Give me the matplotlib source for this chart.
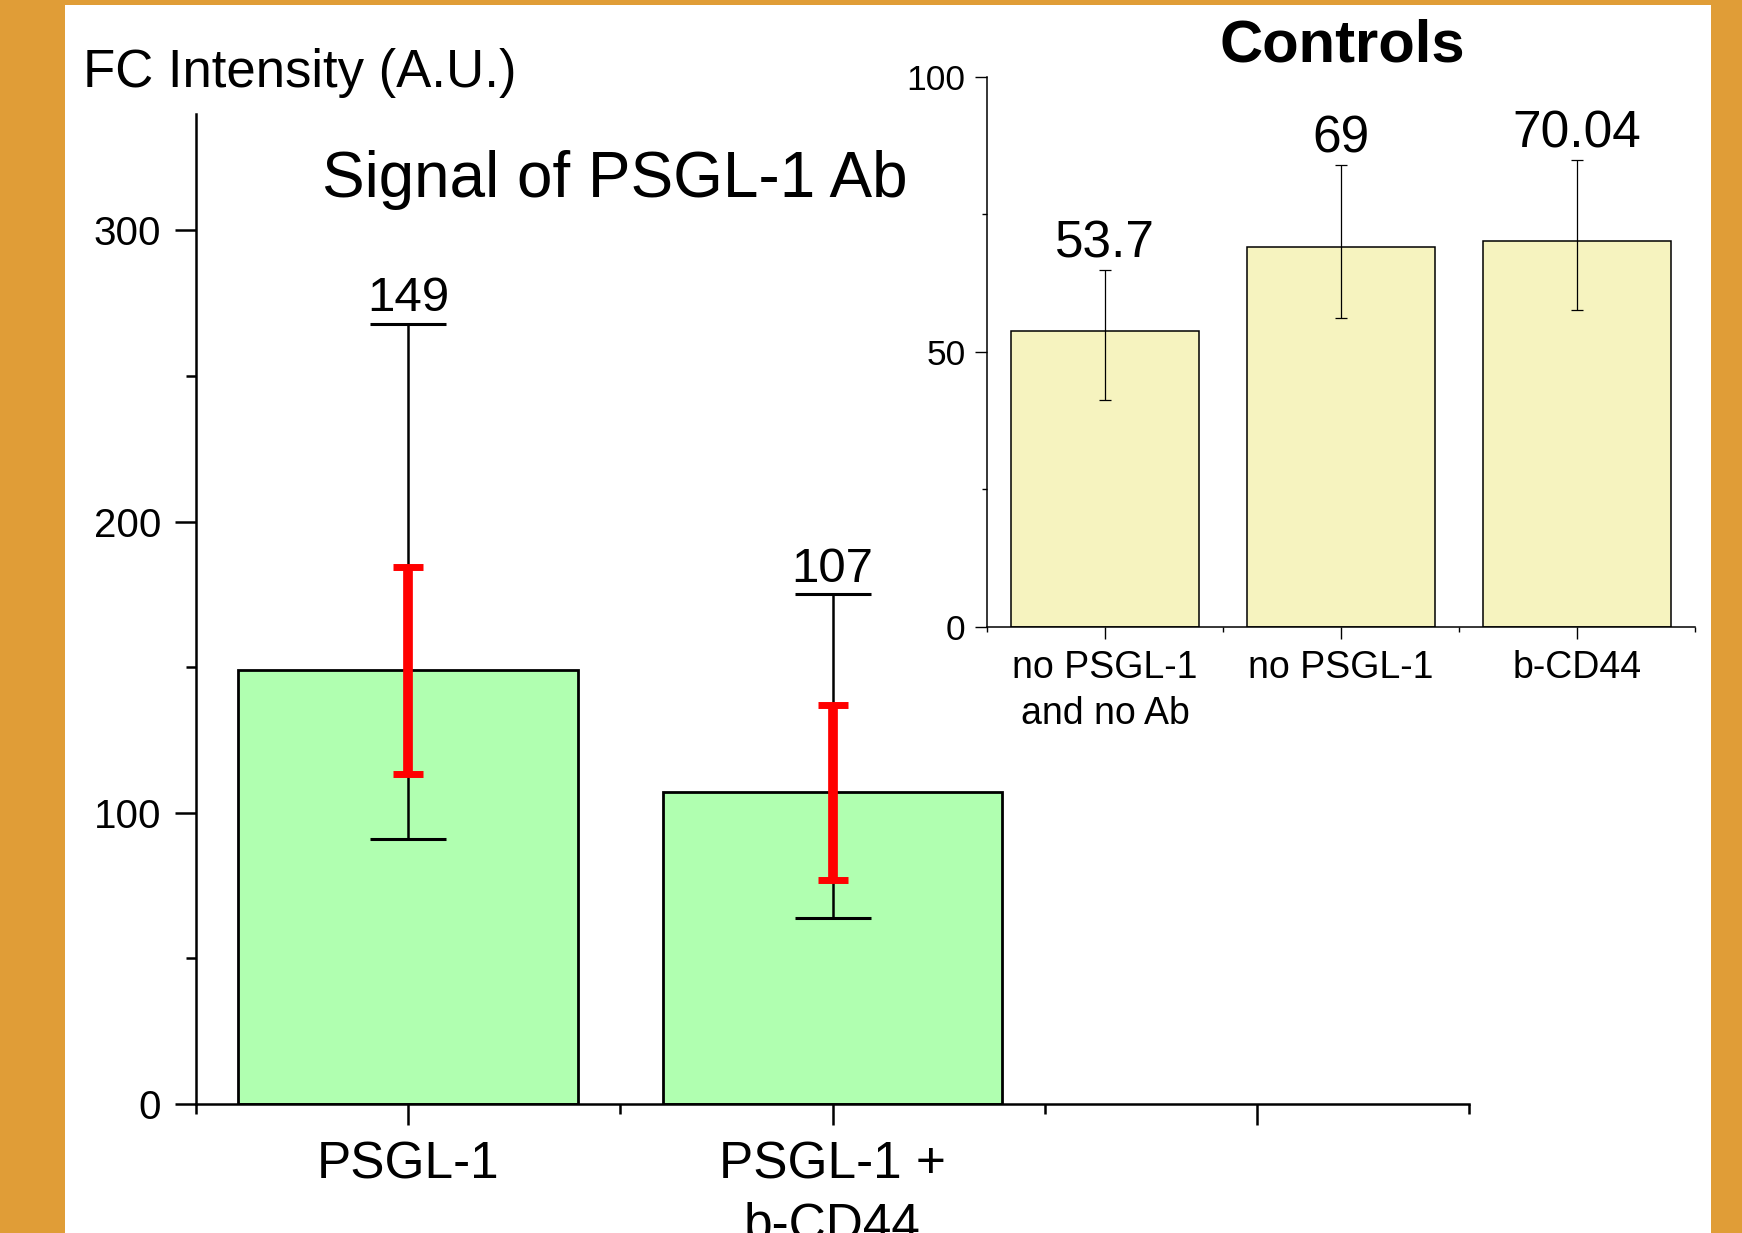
import matplotlib
matplotlib.use('Agg')
import matplotlib.pyplot as plt
from matplotlib.patches import Rectangle
from matplotlib.ticker import MultipleLocator, FixedLocator

plt.rcParams['font.family'] = ['Liberation Sans', 'DejaVu Sans']

# main panel: signal of PSGL-1 antibody
main_labels = ['PSGL-1', 'PSGL-1 +\nb-CD44', '']
main_values = [149, 107]
main_err_low = [58, 43]
main_err_high = [119, 68]
red_err = [35.5, 30]

# inset: controls
ctrl_labels = ['no PSGL-1\nand no Ab', 'no PSGL-1', 'b-CD44']
ctrl_values = [53.7, 69, 70.04]
ctrl_err_low = [12.4, 12.9, 12.4]
ctrl_err_high = [11.1, 14.9, 14.8]

W, H = 1742, 1233
fig = plt.figure(figsize=(W / 100, H / 100), dpi=100, facecolor='#E09D37')
fig.patches.append(Rectangle((65 / W, 0), (1711 - 65) / W, (H - 5) / H,
                             transform=fig.transFigure, facecolor='white',
                             edgecolor='none', zorder=-1))

# ---- main axes
ax = fig.add_axes([196 / W, 1 - 1104 / H, (1469 - 196) / W, (1104 - 114) / H])
ax.set_facecolor('none')
x = list(range(1, len(main_values) + 1))
ax.bar(x, main_values, width=0.8, color='#B0FFB0', edgecolor='black',
       linewidth=2, zorder=2)
ax.errorbar(x, main_values, yerr=[main_err_low, main_err_high], fmt='none',
            ecolor='black', elinewidth=1.8, capsize=27.7, capthick=2.2, zorder=3)
ax.errorbar(x, main_values, yerr=red_err, fmt='none', ecolor='red',
            elinewidth=7, capsize=10.8, capthick=5, zorder=4)
for xi, v, hi in zip(x, main_values, main_err_high):
    ax.annotate(f'{v:g}', xy=(xi, v + hi), xytext=(0, 9), textcoords='offset points',
                ha='center', va='baseline', fontsize=35.5)

ax.set_xlim(0.5, 3.5)
ax.set_ylim(0, 340)
ax.set_xticks([1, 2, 3])
ax.set_xticklabels(main_labels, linespacing=1.32)
ax.xaxis.set_minor_locator(FixedLocator([0.5, 1.5, 2.5, 3.5]))
ax.set_yticks([0, 100, 200, 300])
ax.yaxis.set_minor_locator(MultipleLocator(50))
for s in ['top', 'right']:
    ax.spines[s].set_visible(False)
for s in ['left', 'bottom']:
    ax.spines[s].set_linewidth(1.8)
ax.tick_params(which='major', direction='out', length=15, width=1.8)
ax.tick_params(which='minor', direction='out', length=7, width=1.8)
ax.tick_params(axis='y', labelsize=29, pad=10)
ax.tick_params(axis='x', labelsize=37, pad=11.5)

fig.text(83 / W, 1 - 87 / H, 'FC Intensity (A.U.)', fontsize=38, ha='left', va='baseline')
fig.text(615 / W, 1 - 197 / H, 'Signal of PSGL-1 Ab', fontsize=46, ha='center', va='baseline')

# ---- inset axes
ax2 = fig.add_axes([987 / W, 1 - 627 / H, (1695 - 987) / W, 550.5 / H])
ax2.set_facecolor('none')
x2 = list(range(1, len(ctrl_values) + 1))
ax2.bar(x2, ctrl_values, width=0.8, color='#F6F3BF', edgecolor='black',
        linewidth=1.1, zorder=2)
ax2.errorbar(x2, ctrl_values, yerr=[ctrl_err_low, ctrl_err_high], fmt='none',
             ecolor='black', elinewidth=0.9, capsize=4.3, capthick=0.9, zorder=3)
for xi, v, hi in zip(x2, ctrl_values, ctrl_err_high):
    ax2.annotate(f'{v:g}', xy=(xi, v + hi), xytext=(0, 9), textcoords='offset points',
                 ha='center', va='baseline', fontsize=37)

ax2.set_xlim(0.5, 3.5)
ax2.set_ylim(0, 100)
ax2.set_xticks(x2)
ax2.set_xticklabels(ctrl_labels, linespacing=1.37)
ax2.xaxis.set_minor_locator(FixedLocator([0.5, 1.5, 2.5, 3.5]))
ax2.set_yticks([0, 50, 100])
ax2.yaxis.set_minor_locator(MultipleLocator(25))
for s in ['top', 'right']:
    ax2.spines[s].set_visible(False)
for s in ['left', 'bottom']:
    ax2.spines[s].set_linewidth(1.1)
ax2.tick_params(which='major', direction='out', length=8.5, width=1)
ax2.tick_params(which='minor', direction='out', length=3.5, width=1)
ax2.tick_params(axis='y', labelsize=25.5, pad=7)
ax2.tick_params(axis='x', labelsize=27, pad=8)

fig.text(1342 / W, 1 - 62 / H, 'Controls', fontsize=43, fontweight='bold',
         ha='center', va='baseline')

fig.savefig('out.png', dpi=100, facecolor=fig.get_facecolor())
